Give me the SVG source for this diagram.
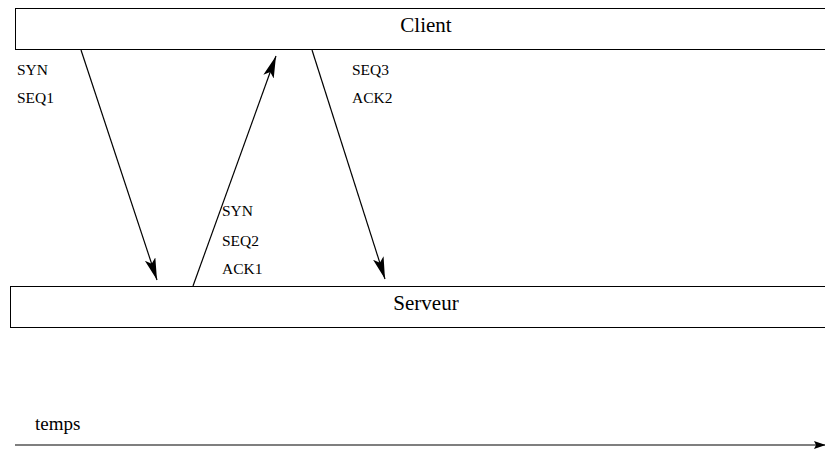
<svg xmlns="http://www.w3.org/2000/svg" width="825" height="451" viewBox="0 0 825 451">
  <style>
    .box { fill: #fff; stroke: #000; stroke-width: 1; }
    .msg { stroke: #000; stroke-width: 1.2; fill: none; marker-end: url(#head); }
    .lbl { font-family: "Liberation Serif", "Times New Roman", serif; font-size: 15.5px; fill: #000; }
    .axis-lbl { font-family: "Liberation Serif", "Times New Roman", serif; font-size: 19px; fill: #000; }
    .title { font-family: "Liberation Serif", "Times New Roman", serif; font-size: 21px; fill: #000; text-anchor: middle; }
  </style>
  <defs>
    <marker id="head" markerUnits="userSpaceOnUse" markerWidth="24" markerHeight="12" refX="22" refY="5.5" orient="auto">
      <path d="M0,0 L22,5.5 L0,11 L5,5.5 Z" fill="#000"/>
    </marker>
    <marker id="thead" markerUnits="userSpaceOnUse" markerWidth="14" markerHeight="8" refX="12" refY="4" orient="auto">
      <path d="M0,0 L12,4 L0,8 L2,4 Z" fill="#000"/>
    </marker>
  </defs>
  <rect width="825" height="451" fill="#fff"/>

  <g id="client">
    <rect class="box" x="15.5" y="8.5" width="830" height="41"/>
    <text class="title" x="426" y="32">Client</text>
  </g>

  <g id="serveur">
    <rect class="box" x="10.5" y="286.5" width="830" height="41"/>
    <text class="title" x="426" y="310">Serveur</text>
  </g>

  <g id="connectors">
    <line class="msg" x1="81" y1="50" x2="157" y2="280"/>
    <line class="msg" x1="193" y1="286" x2="276" y2="56"/>
    <line class="msg" x1="312" y1="50" x2="385" y2="279"/>
    <line x1="15" y1="445" x2="826" y2="445" stroke="#000" stroke-width="1.2" marker-end="url(#thead)"/>
  </g>

  <g id="labels">
    <text class="lbl" x="17" y="75">SYN</text>
    <text class="lbl" x="17" y="103">SEQ1</text>
    <text class="lbl" x="222" y="216">SYN</text>
    <text class="lbl" x="222" y="246">SEQ2</text>
    <text class="lbl" x="222" y="274">ACK1</text>
    <text class="lbl" x="352" y="75">SEQ3</text>
    <text class="lbl" x="352" y="103">ACK2</text>
    <text class="axis-lbl" x="35" y="430">temps</text>
  </g>
</svg>
